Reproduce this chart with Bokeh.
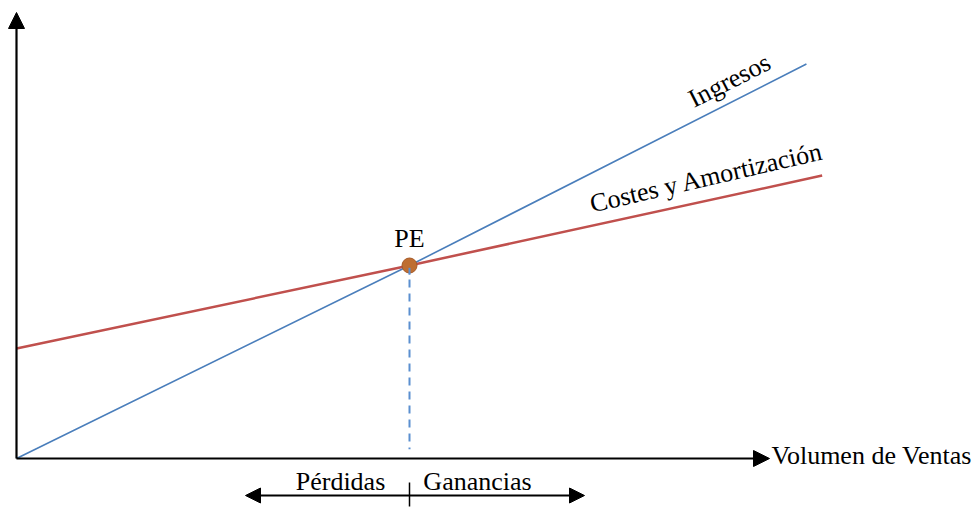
from bokeh.plotting import figure
from bokeh.models import Range1d, Arrow, NormalHead
from bokeh.core.properties import value
from bokeh.embed import file_html
from bokeh.resources import INLINE
import math

# Break-even diagram data (volume units, monetary units)
ventas_ingresos = [0, 50, 100.5]
ingresos = [0, 500, 1022]
ventas_costes = [0, 50, 102.5]
costes = [285, 500, 733]
pe_volumen = [50]
pe_valor = [500]

W, H = 978, 507
SX, SY = 7.86, 0.386          # pixels per data unit
OX, OY = 16, 458              # origin position on the page (from top-left)

p = figure(width=W, height=H, output_backend="svg", toolbar_location=None,
           x_range=Range1d(-OX / SX, (W - OX) / SX),
           y_range=Range1d(-(H - OY) / SY, OY / SY),
           min_border=0)
p.axis.visible = False
p.grid.visible = False
p.outline_line_color = None
p.background_fill_color = "white"
p.border_fill_color = "white"

FONT = value("Liberation Serif")
SIZE = value("26px")

# Axes with arrow heads
p.add_layout(Arrow(x_start=0, y_start=0, x_end=0, y_end=(OY - 12) / SY,
                   line_width=2.2, line_color="black",
                   end=NormalHead(size=16, fill_color="black", line_color="black")))
p.add_layout(Arrow(x_start=0, y_start=0, x_end=(769 - OX) / SX, y_end=0,
                   line_width=2.2, line_color="black",
                   end=NormalHead(size=16, fill_color="black", line_color="black")))

# Revenue and cost lines
p.line(ventas_costes, costes, line_color="#C0504D", line_width=2.5)
p.line(ventas_ingresos, ingresos, line_color="#4A7EBB", line_width=1.6)

# Break-even point and its projection on the volume axis
p.segment(x0=pe_volumen, y0=pe_valor, x1=pe_volumen, y1=[24], line_color="#5B8FD0",
          line_width=2, line_dash="8 6")
p.scatter(pe_volumen, pe_valor, size=15, fill_color="#BE6E32", line_color="#A65A28",
          line_width=1)
p.segment(x0=pe_volumen, y0=[pe_valor[0] - 6], x1=pe_volumen, y1=[pe_valor[0] - 24],
          line_color="#5B8FD0", line_width=2)

p.text(x=pe_volumen, y=[pe_valor[0] + 70], text=["PE"], text_font=FONT,
       text_font_size=SIZE, text_align="center", text_baseline="middle")

# Line labels
p.text(x=[(729 - OX) / SX], y=[(OY - 80) / SY], text=["Ingresos"], text_font=FONT,
       text_font_size=SIZE, text_align="center", text_baseline="middle",
       angle=math.radians(27))
p.text(x=[(706 - OX) / SX], y=[(OY - 177) / SY], text=["Costes y Amortización"],
       text_font=FONT, text_font_size=SIZE, text_align="center",
       text_baseline="middle", angle=math.radians(13))

p.text(x=[(771 - OX) / SX], y=[(OY - 455) / SY], text=["Volumen de Ventas"],
       text_font=FONT, text_font_size=SIZE, text_align="left", text_baseline="middle")

# Loss / profit zone indicator below the volume axis
y_ind = -(495 - OY) / SY
p.add_layout(Arrow(x_start=pe_volumen[0], y_start=y_ind, x_end=(245 - OX) / SX, y_end=y_ind,
                   line_width=2, line_color="black",
                   end=NormalHead(size=15, fill_color="black", line_color="black")))
p.add_layout(Arrow(x_start=pe_volumen[0], y_start=y_ind, x_end=(584 - OX) / SX, y_end=y_ind,
                   line_width=2, line_color="black",
                   end=NormalHead(size=15, fill_color="black", line_color="black")))
p.segment(x0=pe_volumen, y0=[-(482 - OY) / SY], x1=pe_volumen, y1=[-(506 - OY) / SY],
          line_color="black", line_width=1.5)

p.text(x=[(340 - OX) / SX], y=[-(481 - OY) / SY], text=["Pérdidas"], text_font=FONT,
       text_font_size=SIZE, text_align="center", text_baseline="middle")
p.text(x=[(477 - OX) / SX], y=[-(481 - OY) / SY], text=["Ganancias"], text_font=FONT,
       text_font_size=SIZE, text_align="center", text_baseline="middle")

open("out.html", "w").write(file_html(p, INLINE))
